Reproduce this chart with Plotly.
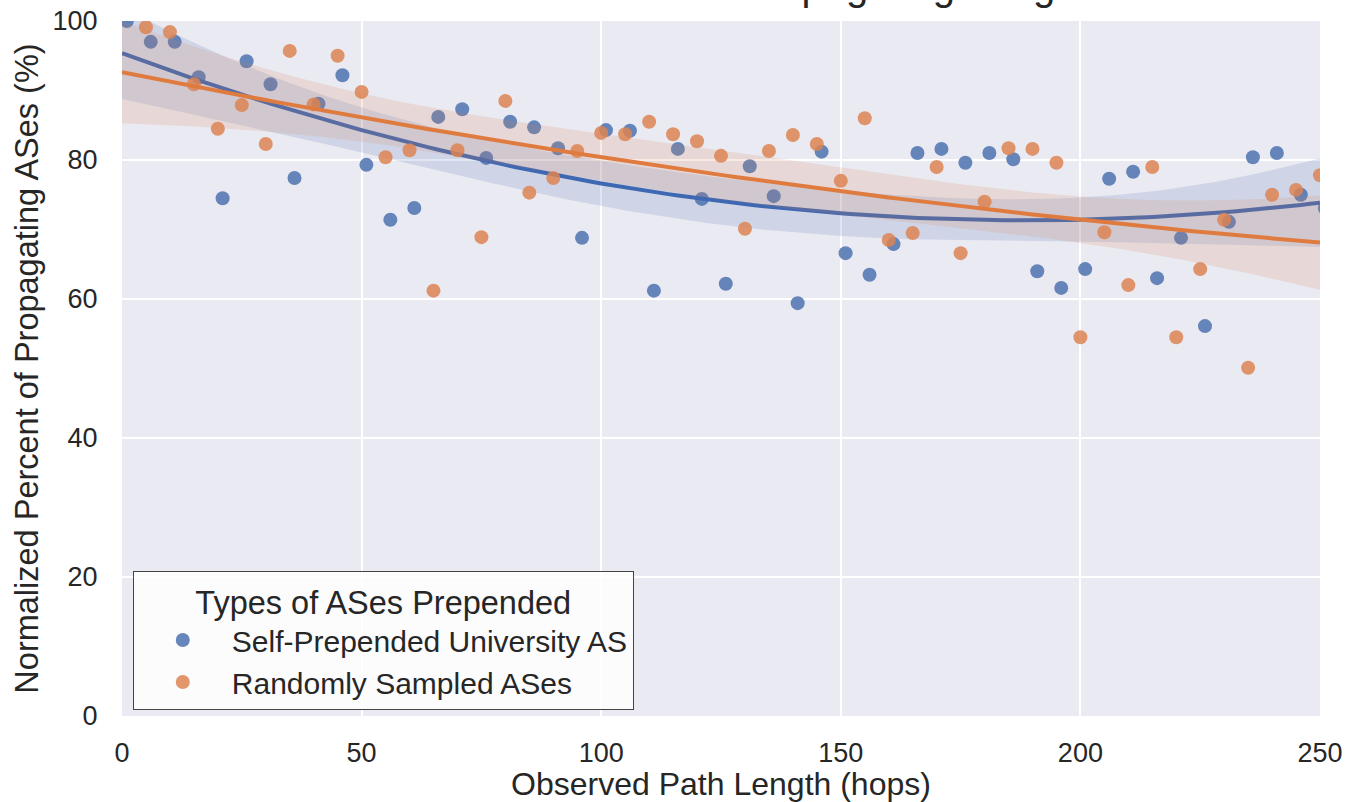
import numpy as np
import plotly.graph_objects as go

# ---------------- data ----------------
univ_x = [1, 6, 11, 16, 21, 26, 31, 36, 41, 46, 51, 56, 61, 66, 71, 76, 81, 86, 91, 96,
          101, 106, 111, 116, 121, 126, 131, 136, 141, 146, 151, 156, 161, 166, 171, 176,
          181, 186, 191, 196, 201, 206, 211, 216, 221, 226, 231, 236, 241, 246, 251]
univ_y = [100, 97.0, 97.0, 91.9, 74.5, 94.2, 90.9, 77.4, 88.1, 92.2, 79.3, 71.4, 73.1,
          86.2, 87.3, 80.3, 85.5, 84.7, 81.7, 68.8, 84.3, 84.2, 61.2, 81.6, 74.4, 62.2,
          79.1, 74.8, 59.4, 81.2, 66.6, 63.5, 67.9, 81.0, 81.6, 79.6, 81.0, 80.1, 64.0,
          61.6, 64.3, 77.3, 78.3, 63.0, 68.8, 56.1, 71.1, 80.4, 81.0, 75.0, 73.1]

rand_x = [5, 10, 15, 20, 25, 30, 35, 40, 45, 50, 55, 60, 65, 70, 75, 80, 85, 90, 95,
          100, 105, 110, 115, 120, 125, 130, 135, 140, 145, 150, 155, 160, 165, 170, 175,
          180, 185, 190, 195, 200, 205, 210, 215, 220, 225, 230, 235, 240, 245, 250]
rand_y = [99.1, 98.4, 90.9, 84.5, 87.9, 82.3, 95.7, 88.0, 95.0, 89.8, 80.4, 81.4,
          61.2, 81.4, 68.9, 88.5, 75.3, 77.4, 81.3, 83.9, 83.7, 85.5, 83.7, 82.7, 80.6,
          70.1, 81.3, 83.6, 82.3, 77.0, 86.0, 68.5, 69.5, 79.0, 66.6, 74.0, 81.7, 81.6,
          79.6, 54.5, 69.6, 62.0, 79.0, 54.5, 64.3, 71.4, 50.1, 75.0, 75.7, 77.8]

series_names = ["Self-Prepended University AS", "Randomly Sampled ASes"]
point_colors = ["rgba(76,114,176,0.85)", "rgba(221,132,82,0.85)"]
line_colors = ["#3f68b2", "#e07b3f"]
band_colors = ["rgba(76,114,176,0.17)", "rgba(221,132,82,0.17)"]

title_text = "Normalized Percent of ASes Propagating Lengthened"
legend_title = "Types of ASes Prepended"
x_title = "Observed Path Length (hops)"
y_title = "Normalized Percent of Propagating ASes (%)"
x_ticks = [0, 50, 100, 150, 200, 250]
y_ticks = [0, 20, 40, 60, 80, 100]
x_limits = [0, 250]
y_limits = [0, 100]

FONT = "Liberation Sans, Arial, sans-serif"
TXT = "#262626"


def quad_fit(xs, ys, grid):
    """Order-2 OLS fit with analytic 95% confidence band (like seaborn regplot order=2)."""
    xs = np.asarray(xs, float)
    ys = np.asarray(ys, float)
    X = np.vstack([np.ones_like(xs), xs, xs ** 2]).T
    beta, *_ = np.linalg.lstsq(X, ys, rcond=None)
    resid = ys - X @ beta
    dof = len(xs) - 3
    s2 = resid @ resid / dof
    cov = s2 * np.linalg.inv(X.T @ X)
    G = np.vstack([np.ones_like(grid), grid, grid ** 2]).T
    yhat = G @ beta
    se = np.sqrt(np.einsum("ij,jk,ik->i", G, cov, G))
    t = 2.01
    return yhat, yhat - t * se, yhat + t * se


fig = go.Figure()

grid = np.linspace(x_limits[0], x_limits[1], 126)
for xs, ys, name, pc, lc, bc in zip([univ_x, rand_x], [univ_y, rand_y], series_names,
                                    point_colors, line_colors, band_colors):
    fig.add_trace(go.Scatter(
        x=xs, y=ys, mode="markers", name=name,
        marker=dict(color=pc, size=14, line=dict(width=0)),
        showlegend=True))
    yhat, lo, hi = quad_fit(xs, ys, grid)
    fig.add_trace(go.Scatter(
        x=np.concatenate([grid, grid[::-1]]),
        y=np.concatenate([hi, lo[::-1]]),
        fill="toself", fillcolor=bc, line=dict(width=0),
        mode="lines", hoverinfo="skip", showlegend=False))
    fig.add_trace(go.Scatter(
        x=grid, y=yhat, mode="lines", line=dict(color=lc, width=4),
        hoverinfo="skip", showlegend=False))

fig.update_layout(
    width=1348, height=802,
    margin=dict(l=122, r=28, t=21, b=86),
    paper_bgcolor="white",
    plot_bgcolor="#EAEAF2",
    font=dict(family=FONT, color=TXT, size=28),
    showlegend=True,
    legend=dict(
        x=0.009, y=0.009, xanchor="left", yanchor="bottom",
        bgcolor="rgba(255,255,255,0.85)", bordercolor="#444444", borderwidth=1,
        font=dict(size=30, color=TXT, family=FONT),
        title=dict(text=legend_title, side="top center",
                   font=dict(size=32.5, color=TXT, family=FONT)),
        itemsizing="trace", itemwidth=88,
    ),
    annotations=[dict(
        text=title_text, xref="paper", yref="paper", x=0.485, y=1.017,
        xanchor="center", yanchor="bottom", showarrow=False,
        font=dict(size=40, color=TXT, family=FONT), borderpad=0)],
)

fig.update_xaxes(
    range=x_limits, tickvals=x_ticks, ticktext=[str(v) for v in x_ticks],
    showgrid=True, gridcolor="white", gridwidth=2, zeroline=False, automargin=False,
    showline=False, ticks="outside", ticklen=13, tickcolor="rgba(0,0,0,0)",
    tickfont=dict(size=27, color=TXT, family=FONT),
    title=dict(text=x_title, font=dict(size=32, color=TXT, family=FONT), standoff=4),
)
fig.update_yaxes(
    range=y_limits, tickvals=y_ticks, ticktext=[str(v) for v in y_ticks],
    showgrid=True, gridcolor="white", gridwidth=2, zeroline=False, automargin=False,
    showline=False, ticks="outside", ticklen=18, tickcolor="rgba(0,0,0,0)",
    tickfont=dict(size=27, color=TXT, family=FONT),
    title=dict(text=y_title, font=dict(size=32.5, color=TXT, family=FONT), standoff=4),
)

fig.write_html("out.html",
               config={"displayModeBar": False},
               post_script="document.body.style.margin='0px';"
                           "document.body.style.overflow='hidden';")
